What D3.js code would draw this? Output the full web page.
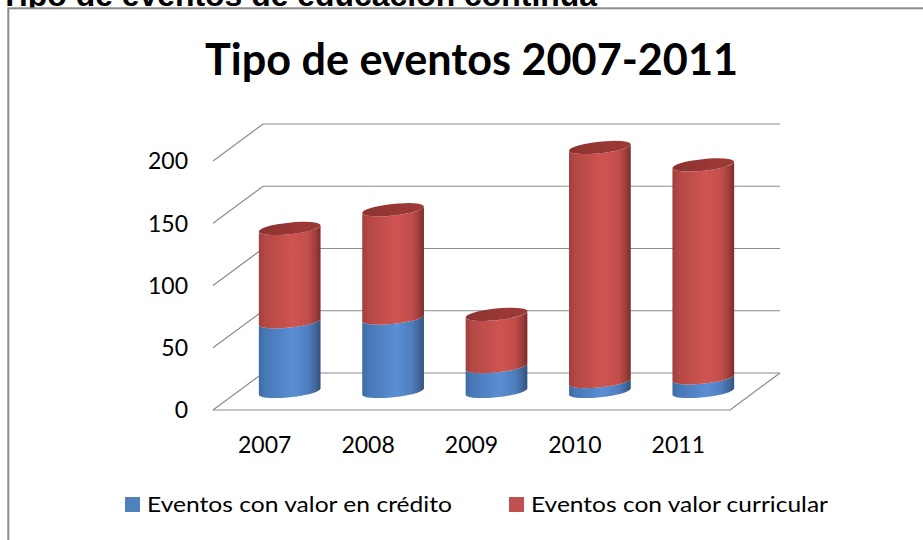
<!DOCTYPE html>
<html>
<head>
<meta charset="utf-8">
<script src="https://cdn.jsdelivr.net/npm/d3@7"></script>
<style>
  html, body { margin: 0; padding: 0; background: #fff; }
  svg { display: block; }
</style>
</head>
<body>
<svg id="chart" width="923" height="540"></svg>
<script>
// ---- data ----
const categories = ["2007", "2008", "2009", "2010", "2011"];
const creditValues = [56, 59, 20, 8, 11];          // Eventos con valor en crédito
const curricularValues = [75, 87, 42, 188, 171];   // Eventos con valor curricular
const seriesNames = ["Eventos con valor en crédito", "Eventos con valor curricular"];
const yTicks = [0, 50, 100, 150, 200];
const chartTitle = "Tipo de eventos 2007-2011";
const pageHeading = "Tipo de eventos de educación continua";

// ---- layout ----
const svg = d3.select("#chart");
const W = 923, H = 540;
const backLeft = 263, backRight = 780;
const depthX = -50, depthY = 37;
const FONT = "Lato, 'Open Sans', sans-serif";

const yBack = d3.scaleLinear().domain([0, 200]).range([373, 124]);
const yMid = d3.scaleLinear().domain([0, 200]).range([373 + depthY / 2, 124 + depthY / 2]);
const xBack = d3.scaleBand().domain(categories).range([backLeft, backRight])
  .paddingInner(0.4).paddingOuter(0.2);

const colors = { credit: "#4f81bd", curr: "#c0504d" };

// page heading (partly hidden by the chart frame)
svg.append("text")
  .attr("x", 0).attr("y", 6)
  .attr("font-family", "'Liberation Sans', Arial, sans-serif")
  .attr("font-weight", "bold").attr("font-size", 32)
  .attr("textLength", 597).attr("lengthAdjust", "spacingAndGlyphs")
  .attr("fill", "#000")
  .text(pageHeading);

// chart frame
svg.append("rect")
  .attr("x", 8.3).attr("y", 8.3).attr("width", 1000).attr("height", 1000)
  .attr("fill", "#fff").attr("stroke", "#8c8c8c").attr("stroke-width", 2);

// gradients
const defs = svg.append("defs");
function makeGrad(id, stops) {
  const g = defs.append("linearGradient").attr("id", id)
    .attr("x1", "0%").attr("x2", "100%").attr("y1", "0%").attr("y2", "0%");
  stops.forEach(s => g.append("stop").attr("offset", s[0]).attr("stop-color", s[1]));
}
makeGrad("gradRed", [[0, "#a13f3c"], [0.1, "#b44845"], [0.55, "#cf5451"], [0.8, "#c14e4b"], [0.92, "#9f3d3a"], [1, "#7a2c2a"]]);
makeGrad("gradBlue", [[0, "#3f6ba4"], [0.1, "#4778b6"], [0.55, "#5a8fd4"], [0.8, "#4e7ebc"], [0.92, "#3f679a"], [1, "#33527c"]]);
makeGrad("gradCap", [[0, "#8c3230"], [0.6, "#993836"], [1, "#9c3a37"]]);

// gridlines
const grid = svg.append("g").attr("stroke", "#8c8c8c").attr("stroke-width", 1.2).attr("fill", "none");
yTicks.forEach(v => {
  const y = yBack(v);
  grid.append("line").attr("x1", backLeft).attr("x2", backRight).attr("y1", y).attr("y2", y);
  grid.append("line").attr("x1", backLeft).attr("y1", y).attr("x2", backLeft + depthX).attr("y2", y + depthY);
});
// floor front edge and right edge
grid.append("line").attr("x1", backLeft + depthX).attr("x2", backRight + depthX)
  .attr("y1", yBack(0) + depthY).attr("y2", yBack(0) + depthY);
grid.append("line").attr("x1", backRight).attr("y1", yBack(0))
  .attr("x2", backRight + depthX).attr("y2", yBack(0) + depthY);

// y tick labels
svg.append("g").selectAll("text").data(yTicks).join("text")
  .attr("x", backLeft + depthX - 25)
  .attr("y", d => yBack(d) + depthY)
  .attr("dy", "0.36em")
  .attr("text-anchor", "end")
  .attr("font-family", FONT).attr("font-size", 23).attr("fill", "#000")
  .text(d => d);

// cylinders
const rx = xBack.bandwidth() / 2, ry = 5.8, theta = -6 * Math.PI / 180;
const cosT = Math.cos(theta), sinT = Math.sin(theta);
const phi = Math.atan2(ry * sinT, rx * cosT);
const tR = -phi, tL = Math.PI - phi;
function ellPt(cx, cy, t) {
  return [cx + rx * Math.cos(t) * cosT - ry * Math.sin(t) * sinT,
          cy + rx * Math.cos(t) * sinT + ry * Math.sin(t) * cosT];
}
function bodyPath(cx, yTop, yBot) {
  const pts = [];
  const N = 40;
  for (let i = 0; i <= N; i++) pts.push(ellPt(cx, yTop, tR + (tL - tR) * i / N));
  for (let i = 0; i <= N; i++) pts.push(ellPt(cx, yBot, tL - (tL - tR) * i / N));
  return d3.line()(pts) + "Z";
}

const cyl = svg.append("g");
categories.forEach((c, i) => {
  const cx = xBack(c) + xBack.bandwidth() / 2 + depthX / 2;
  const v1 = creditValues[i], v2 = curricularValues[i];
  const y0 = yMid(0), y1 = yMid(v1), y2 = yMid(v1 + v2);
  cyl.append("path").attr("d", bodyPath(cx, y1, y0)).attr("fill", "url(#gradBlue)");
  cyl.append("path").attr("d", bodyPath(cx, y2, y1)).attr("fill", "url(#gradRed)");
  cyl.append("ellipse")
    .attr("cx", cx).attr("cy", y2).attr("rx", rx).attr("ry", ry)
    .attr("transform", `rotate(${theta * 180 / Math.PI},${cx},${y2})`)
    .attr("fill", "url(#gradCap)");
});

// x category labels (at front edge)
svg.append("g").selectAll("text").data(categories).join("text")
  .attr("x", d => xBack(d) + xBack.bandwidth() / 2 + depthX)
  .attr("y", 453)
  .attr("text-anchor", "middle")
  .attr("font-family", FONT).attr("font-size", 23).attr("fill", "#000")
  .text(d => d);

// title
svg.append("text")
  .attr("x", 471.5).attr("y", 75)
  .attr("text-anchor", "middle")
  .attr("font-family", FONT).attr("font-weight", "bold").attr("font-size", 44)
  .attr("textLength", 533).attr("lengthAdjust", "spacingAndGlyphs")
  .attr("fill", "#000")
  .text(chartTitle);

// legend
const legendItems = [
  { name: seriesNames[0], color: colors.credit, x: 125, w: 305 },
  { name: seriesNames[1], color: colors.curr, x: 509, w: 297 }
];
const lg = svg.append("g");
legendItems.forEach(d => {
  lg.append("rect").attr("x", d.x).attr("y", 497).attr("width", 15).attr("height", 15).attr("fill", d.color);
  lg.append("text").attr("x", d.x + 22).attr("y", 512)
    .attr("font-family", FONT).attr("font-size", 22).attr("fill", "#000")
    .attr("textLength", d.w).attr("lengthAdjust", "spacingAndGlyphs")
    .text(d.name);
});
</script>
</body>
</html>
